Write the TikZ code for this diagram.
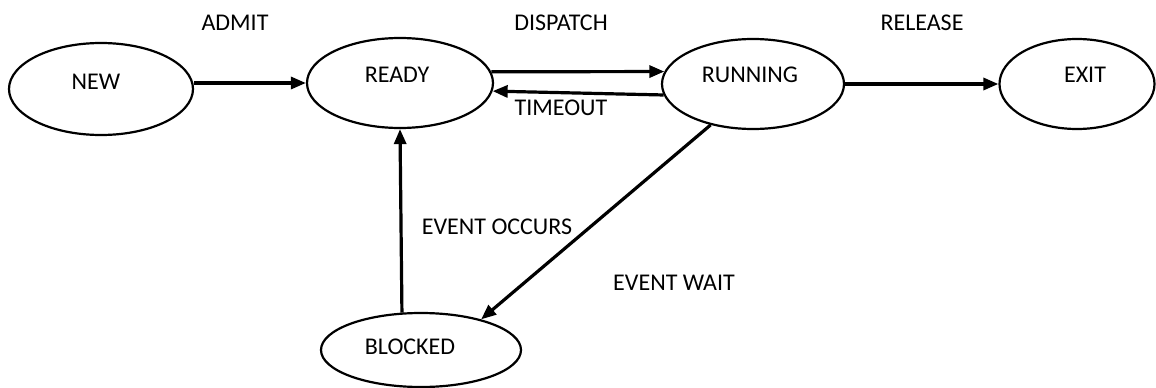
\documentclass[tikz,border=0pt]{standalone}
\usepackage{fontspec}
\setmainfont{Carlito}
\usetikzlibrary{shapes.geometric,arrows.meta}
\tikzset{
  state/.style={ellipse, draw=black, line width=2.2pt, inner sep=0pt},
  statetext/.style={font=\fontsize{24}{28}\selectfont, inner sep=0pt},
  edgetext/.style={font=\fontsize{24}{28}\selectfont, inner sep=0pt},
  flow/.style={line width=3.2pt, -{Triangle[length=15pt,width=12pt]}}
}
\begin{document}
\begin{tikzpicture}[x=1pt,y=-1pt]
\useasboundingbox (0,0) rectangle (1156,388);

% states
\node[state, minimum width=184pt, minimum height=92pt] (new) at (101,89) {};
\node[state, minimum width=186pt, minimum height=90pt] (ready) at (400,83) {};
\node[state, minimum width=182pt, minimum height=90pt] (running) at (753,84) {};
\node[state, minimum width=155pt, minimum height=90pt] (exit) at (1077,84) {};
\node[state, minimum width=200pt, minimum height=74pt] (blocked) at (421,350) {};

\node[statetext] (newt) at (96,82) {NEW};
\node[statetext] (readyt) at (397,75) {READY};
\node[statetext] (runningt) at (750,75) {RUNNING};
\node[statetext] (exitt) at (1085,75) {EXIT};
\node[statetext] (blockedt) at (410,347) {BLOCKED};

% transitions
\draw[flow] (new.east |- 0,83) -- (ready.west);
\draw[flow] (ready.7) -- (running.172);
\draw[flow] (running.187) -- (ready.-5);
\draw[flow] (running.east) -- (exit.west);
\draw[flow] (running.224) -- (blocked.27);
\draw[flow] (blocked.117) -- (ready.south);

% transition labels
\node[edgetext] (admit) at (235,23) {ADMIT};
\node[edgetext] (dispatch) at (561,23) {DISPATCH};
\node[edgetext] (timeout) at (561,108) {TIMEOUT};
\node[edgetext] (release) at (922,23) {RELEASE};
\node[edgetext] (occurs) at (497,227) {EVENT OCCURS};
\node[edgetext] (wait) at (674,283) {EVENT WAIT};
\end{tikzpicture}
\end{document}
